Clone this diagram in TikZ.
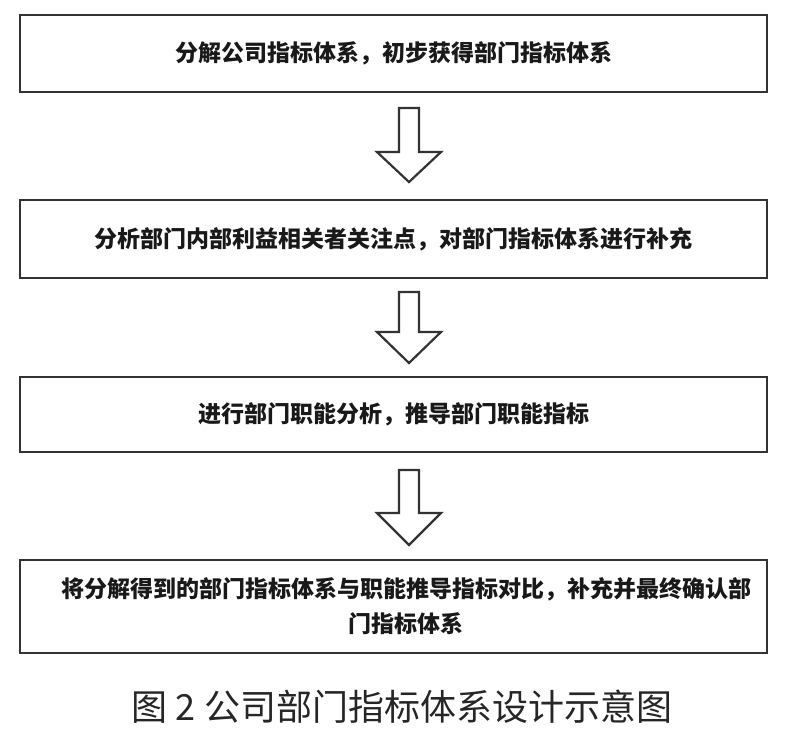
\documentclass[tikz,border=0pt]{standalone}
\usepackage{fontspec}
\newfontfamily\cjk{Noto Sans CJK SC}
\begin{document}
\begin{tikzpicture}[x=1pt,y=-1pt,
  box/.style={draw=black!80,line width=2.4pt,minimum width=747pt,inner sep=0pt,
    font=\cjk\bfseries\fontsize{23}{35}\selectfont,text=black!90,align=center},
  barrow/.style={draw=black!80,line width=2.2pt,fill=white,line join=miter}]
\useasboundingbox (0,0) rectangle (786,733);
\node[box,minimum height=77pt] (b1) at (393.5,53.5) {分解公司指标体系，初步获得部门指标体系};
\node[box,minimum height=78pt] (b2) at (393.5,239) {分析部门内部利益相关者关注点，对部门指标体系进行补充};
\node[box,minimum height=75pt] (b3) at (393.5,414.5) {进行部门职能分析，推导部门职能指标};
\node[box,minimum height=93pt] (b4) at (393.5,606.5) {};
\node[font=\cjk\bfseries\fontsize{23}{35}\selectfont,text=black!90,align=center] (t4) at (406,606.5)
  {将分解得到的部门指标体系与职能推导指标对比，补充并最终确认部\\门指标体系};
\foreach \s/\h/\e [count=\i] in {108/152/182, 292/332/363, 470/513/545}{
  \coordinate (as\i) at (409,\s);
  \coordinate (ae\i) at (409,\e);
  \draw[barrow] (399,\s) -- (419,\s) -- (419,\h) -- (441,\h) -- (ae\i) -- (377,\h) -- (399,\h) -- cycle;
}
\node[font=\cjk\fontsize{36}{40}\selectfont,text=black!85] (cap) at (402,707) {图 2 公司部门指标体系设计示意图};
\end{tikzpicture}
\end{document}
